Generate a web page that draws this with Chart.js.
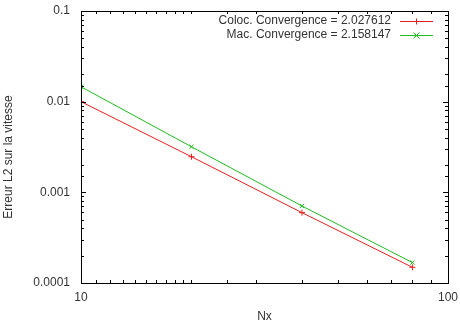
<!DOCTYPE html>
<html>
<head>
<meta charset="utf-8">
<script src="https://cdn.jsdelivr.net/npm/chart.js@4"></script>
<style>
html,body{margin:0;padding:0;background:#fff;}
#wrap{width:460px;height:324px;}
</style>
</head>
<body>
<div id="wrap"><canvas id="c" width="460" height="324"></canvas></div>
<script>
const nx = [10, 20, 40, 80];
const colocErr = [0.0100, 0.00247, 0.000597, 0.000149];
const macErr = [0.0146, 0.00318, 0.000707, 0.000168];
const colocLabel = 'Coloc. Convergence = 2.027612';
const macLabel = 'Mac. Convergence = 2.158147';
const xTickLabels = {10: '10', 100: '100'};
const yTickLabels = ['0.1', '0.01', '0.001', '0.0001'];
const xTitle = 'Nx';
const yTitle = 'Erreur L2 sur la vitesse';
const FONT = "'Liberation Sans', Arial, sans-serif";
const TXT = '#333';
const RED = '#eb1e1e';
const GREEN = '#1ebe1e';
const legendColors = [RED, GREEN];
const legendStyles = ['plus', 'x'];

function isDecade(v){ const l = Math.log10(v); return Math.abs(l - Math.round(l)) < 1e-9; }
function zeroPad(s){ s.paddingLeft = 0; s.paddingRight = 0; s.paddingTop = 0; s.paddingBottom = 0; }

const framePlugin = {
  id: 'frame',
  afterDraw(chart){
    const ctx = chart.ctx, a = chart.chartArea;
    const xs = chart.scales.x, ys = chart.scales.y;
    ctx.save();
    ctx.strokeStyle = '#000';
    ctx.lineWidth = 1;
    ctx.strokeRect(Math.round(a.left)+0.5, Math.round(a.top)+0.5, Math.round(a.right-a.left), Math.round(a.bottom-a.top));
    ctx.beginPath();
    xs.ticks.forEach(t => {
      const v = t.value; const len = isDecade(v) ? 5 : 3;
      const px = Math.round(xs.getPixelForValue(v)) + 0.5;
      ctx.moveTo(px, a.bottom); ctx.lineTo(px, a.bottom - len);
      ctx.moveTo(px, a.top); ctx.lineTo(px, a.top + len);
    });
    ys.ticks.forEach(t => {
      const v = t.value; const len = isDecade(v) ? 5 : 3;
      const py = Math.round(ys.getPixelForValue(v)) + 0.5;
      ctx.moveTo(a.left, py); ctx.lineTo(a.left + len, py);
      ctx.moveTo(a.right, py); ctx.lineTo(a.right - len, py);
    });
    ctx.stroke();
    ctx.restore();
    // y title
    ctx.save();
    ctx.fillStyle = TXT;
    ctx.font = '12px ' + FONT;
    ctx.textAlign = 'center';
    ctx.textBaseline = 'middle';
    ctx.translate(9, 157);
    ctx.rotate(-Math.PI/2);
    ctx.fillText(yTitle, 0, 0);
    ctx.restore();
    // legend
    chart.data.datasets.forEach((ds, i) => {
      const y = 21 + i * 14;
      const cy = Math.round(y) + 0.5;
      ctx.save();
      ctx.font = '12px ' + FONT;
      ctx.textAlign = 'right';
      ctx.textBaseline = 'middle';
      ctx.fillStyle = TXT;
      ctx.fillText(ds.label, 391, y);
      ctx.restore();
      ctx.save();
      ctx.strokeStyle = legendColors[i];
      ctx.lineWidth = 1;
      ctx.beginPath();
      ctx.moveTo(400, cy); ctx.lineTo(433, cy);
      const cx = 416.5, r = 3;
      if (legendStyles[i] === 'plus') {
        ctx.moveTo(cx, cy - r); ctx.lineTo(cx, cy + r);
      } else {
        ctx.moveTo(cx - r, cy - r); ctx.lineTo(cx + r, cy + r);
        ctx.moveTo(cx - r, cy + r); ctx.lineTo(cx + r, cy - r);
      }
      ctx.stroke();
      ctx.restore();
    });
  }
};

new Chart(document.getElementById('c'), {
  type: 'line',
  data: {
    datasets: [
      {
        label: colocLabel,
        data: nx.map((x, i) => ({x: x, y: colocErr[i]})),
        borderColor: RED,
        backgroundColor: RED,
        borderWidth: 1,
        pointStyle: 'cross',
        pointRadius: 3,
        pointBorderWidth: 1,
        fill: false,
        tension: 0
      },
      {
        label: macLabel,
        data: nx.map((x, i) => ({x: x, y: macErr[i]})),
        borderColor: GREEN,
        backgroundColor: GREEN,
        borderWidth: 1,
        pointStyle: 'crossRot',
        pointRadius: 3,
        pointBorderWidth: 1,
        fill: false,
        tension: 0
      }
    ]
  },
  options: {
    responsive: false,
    animation: false,
    devicePixelRatio: 1,
    layout: { padding: { top: 11, right: 12, left: 0, bottom: 0 } },
    plugins: { legend: { display: false }, tooltip: { enabled: false } },
    scales: {
      x: {
        type: 'logarithmic',
        position: 'bottom',
        min: 10, max: 100,
        grid: { display: false, drawTicks: false },
        border: { display: false },
        ticks: {
          autoSkip: false, maxRotation: 0, padding: 7,
          color: TXT, font: { family: FONT, size: 12 },
          callback: (v) => xTickLabels[v] !== undefined ? xTickLabels[v] : ''
        },
        title: { display: true, text: xTitle, color: TXT, font: { family: FONT, size: 12 }, padding: { top: 0, bottom: 0 } },
        afterFit: (s) => { s.height = 41; zeroPad(s); }
      },
      y: {
        type: 'logarithmic',
        position: 'left',
        min: 0.0001, max: 0.1,
        grid: { display: false, drawTicks: false },
        border: { display: false },
        ticks: {
          autoSkip: false, padding: 11,
          color: TXT, font: { family: FONT, size: 12 },
          callback: (v) => {
            if (!isDecade(v)) return '';
            const k = Math.round(-Math.log10(v)) - 1;
            return yTickLabels[k] !== undefined ? yTickLabels[k] : '';
          }
        },
        afterFit: (s) => { s.width = 81; zeroPad(s); }
      }
    }
  },
  plugins: [framePlugin]
});
</script>
</body>
</html>
